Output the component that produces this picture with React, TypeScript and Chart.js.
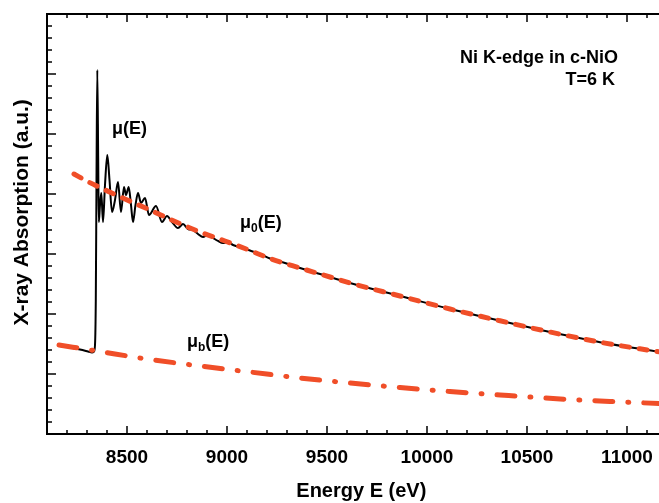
import React, { useEffect, useRef } from "react";
import { Chart, registerables } from "chart.js";

Chart.register(...registerables);

// ---- data (energy in eV, absorption in arbitrary units) ----
const ENERGY_MU = [
  8165, 8215, 8265, 8305, 8325, 8335, 8340, 8344, 8347.5, 8351.5, 8356, 8359,
  8365, 8371.5, 8380, 8390, 8401.5, 8412.5, 8425, 8440, 8455, 8470, 8485, 8495,
  8508.5, 8520, 8530, 8542.5, 8555, 8570, 8590, 8610, 8645, 8675, 8700, 8725,
  8755, 8780, 8805, 8830, 8855, 8880, 8905, 8930, 8955, 8980, 9005, 9030, 9070,
  9115, 9165, 9215, 9290, 9365, 9465, 9615, 9865, 10115, 10365, 10615, 10865, 11165,
];
const MU = [
  1.467, 1.442, 1.408, 1.375, 1.358, 1.375, 1.483, 2.233, 4.233, 6.067, 4.567, 3.533,
  3.817, 4.017, 3.533, 4.15, 4.65, 4.233, 3.7, 3.9, 4.2, 3.7, 4.117, 3.983,
  4.117, 3.817, 3.533, 3.817, 4.017, 3.85, 3.933, 3.65, 3.8, 3.533, 3.633, 3.533,
  3.433, 3.5, 3.417, 3.4, 3.333, 3.283, 3.317, 3.267, 3.217, 3.183, 3.2, 3.15, 3.108,
  3.058, 3.0, 2.925, 2.85, 2.767, 2.667, 2.517, 2.3, 2.083, 1.887, 1.7, 1.53, 1.367,
];

const ENERGY_MU0 = [
  8235, 8305, 8365, 8490, 8615, 8740, 8865, 8990, 9115, 9215, 9365, 9465, 9615,
  9865, 10115, 10365, 10615, 10865, 11165,
];
const MU0 = [
  4.333, 4.205, 4.108, 3.917, 3.733, 3.542, 3.367, 3.217, 3.058, 2.925, 2.767, 2.667, 2.517,
  2.3, 2.083, 1.887, 1.7, 1.53, 1.367,
];

const ENERGY_MUB = [8160, 8365, 8565, 8865, 9115, 9365, 9615, 9865, 10115, 10365, 10700, 10915, 11165];
const MUB = [1.483, 1.375, 1.267, 1.133, 1.033, 0.933, 0.85, 0.775, 0.708, 0.65, 0.578, 0.542, 0.508];

const X_TICKS = [8500, 9000, 9500, 10000, 10500, 11000];
const X_MIN = 8100;
const X_MAX = 11160;
const X_MINOR_STEP = 100;
const Y_MIN = 0;
const Y_MAX = 7;
const Y_MINOR_COUNT = 35; // minor every 0.2

const FONT = "'Liberation Sans', Arial, Helvetica, sans-serif";
const RED = "#F04E28";

const toPoints = (xs: number[], ys: number[]) => xs.map((x, i) => ({ x, y: ys[i] }));

const frameTicks = {
  id: "frameTicks",
  afterDatasetsDraw(chart: any) {
    const { ctx, chartArea: a, scales } = chart;
    const x = scales.x;
    const y = scales.y;
    ctx.save();
    ctx.strokeStyle = "#000";
    ctx.lineWidth = 2;
    ctx.beginPath();
    ctx.moveTo(a.left - 1, a.top);
    ctx.lineTo(chart.width, a.top);
    ctx.stroke();
    ctx.lineWidth = 1.5;
    const nx = Math.floor((X_MAX - X_MIN) / X_MINOR_STEP);
    for (let i = 1; i <= nx; i++) {
      const e = X_MIN + i * X_MINOR_STEP;
      const px = x.getPixelForValue(e);
      const major = e % 500 === 0;
      const len = major ? 8 : 4;
      ctx.beginPath();
      ctx.moveTo(px, a.bottom);
      ctx.lineTo(px, a.bottom - len);
      ctx.moveTo(px, a.top);
      ctx.lineTo(px, a.top + len);
      ctx.stroke();
    }
    for (let i = 1; i < Y_MINOR_COUNT; i++) {
      const v = Y_MIN + (i * (Y_MAX - Y_MIN)) / Y_MINOR_COUNT;
      const py = y.getPixelForValue(v);
      const len = i % 5 === 0 ? 9 : 5;
      ctx.beginPath();
      ctx.moveTo(a.left, py);
      ctx.lineTo(a.left + len, py);
      ctx.stroke();
    }
    ctx.restore();
  },
};

type Label = { parts: { t: string; sub?: boolean }[]; e: number; v: number; align: "left" | "right" };
const LABELS: Label[] = [
  { parts: [{ t: "\u03bc(E)" }], e: 8425, v: 5.0, align: "left" },
  { parts: [{ t: "\u03bc" }, { t: "0", sub: true }, { t: "(E)" }], e: 9065, v: 3.433, align: "left" },
  { parts: [{ t: "\u03bc" }, { t: "b", sub: true }, { t: "(E)" }], e: 8800, v: 1.458, align: "left" },
  { parts: [{ t: "Ni K-edge in c-NiO" }], e: 10955, v: 6.183, align: "right" },
  { parts: [{ t: "T=6 K" }], e: 10940, v: 5.817, align: "right" },
];

const annotations = {
  id: "annotations",
  afterDraw(chart: any) {
    const { ctx, scales } = chart;
    ctx.save();
    ctx.fillStyle = "#000";
    ctx.textBaseline = "alphabetic";
    ctx.textAlign = "left";
    const main = `bold 18px ${FONT}`;
    const sub = `bold 12px ${FONT}`;
    for (const lab of LABELS) {
      let px = scales.x.getPixelForValue(lab.e);
      const py = scales.y.getPixelForValue(lab.v);
      let total = 0;
      for (const p of lab.parts) {
        ctx.font = p.sub ? sub : main;
        total += ctx.measureText(p.t).width;
      }
      if (lab.align === "right") px -= total;
      for (const p of lab.parts) {
        ctx.font = p.sub ? sub : main;
        ctx.fillText(p.t, px, p.sub ? py + 4 : py);
        px += ctx.measureText(p.t).width;
      }
    }
    ctx.restore();
  },
};

export default function App() {
  const ref = useRef<HTMLCanvasElement | null>(null);
  useEffect(() => {
    if (!ref.current) return;
    Chart.defaults.font.family = FONT;
    const chart = new Chart(ref.current, {
      type: "line",
      data: {
        datasets: [
          {
            label: "mu0",
            data: toPoints(ENERGY_MU0, MU0),
            borderColor: RED,
            borderWidth: 5,
            borderDash: [8, 10],
            borderCapStyle: "round",
            pointRadius: 0,
            cubicInterpolationMode: "monotone",
            fill: false,
          },
          {
            label: "mub",
            data: toPoints(ENERGY_MUB, MUB),
            borderColor: RED,
            borderWidth: 5,
            borderDash: [18, 15, 1, 15],
            borderCapStyle: "round",
            pointRadius: 0,
            cubicInterpolationMode: "monotone",
            fill: false,
          },
          {
            label: "mu",
            data: toPoints(ENERGY_MU, MU),
            borderColor: "#000",
            borderWidth: 2,
            pointRadius: 0,
            cubicInterpolationMode: "monotone",
            fill: false,
          },
        ],
      },
      options: {
        animation: false,
        responsive: false,
        devicePixelRatio: 1,
        layout: { padding: { top: 14, right: 0, left: 0, bottom: 0 } },
        plugins: { legend: { display: false }, tooltip: { enabled: false } },
        scales: {
          x: {
            type: "linear",
            min: X_MIN,
            max: X_MAX,
            grid: { display: false, drawTicks: false },
            border: { display: true, color: "#000", width: 2 },
            ticks: {
              color: "#000",
              font: { size: 19, weight: "bold" },
              padding: 12,
              maxRotation: 0,
              callback: (v: any) => String(v),
            },
            afterBuildTicks: (s: any) => {
              s.ticks = X_TICKS.map((v) => ({ value: v }));
            },
            afterFit: (s: any) => {
              s.height = 69;
              s.paddingRight = 0;
              s.paddingLeft = 0;
            },
            title: {
              display: true,
              text: "   Energy E (eV)",
              color: "#000",
              font: { size: 20, weight: "bold" },
              padding: { top: 0, bottom: 0 },
            },
          },
          y: {
            type: "linear",
            min: Y_MIN,
            max: Y_MAX,
            grid: { display: false, drawTicks: false },
            border: { display: true, color: "#000", width: 2 },
            ticks: { display: false },
            afterFit: (s: any) => {
              s.width = 47;
            },
            title: {
              display: true,
              text: "    X-ray Absorption (a.u.)",
              color: "#000",
              font: { size: 21, weight: "bold" },
              padding: { top: 10, bottom: 0 },
            },
          },
        },
      } as any,
      plugins: [frameTicks, annotations],
    });
    return () => chart.destroy();
  }, []);
  return (
    <div style={{ position: "absolute", left: 0, top: 0, width: 659, height: 503, background: "#fff" }}>
      <canvas ref={ref} width={659} height={503} />
    </div>
  );
}
